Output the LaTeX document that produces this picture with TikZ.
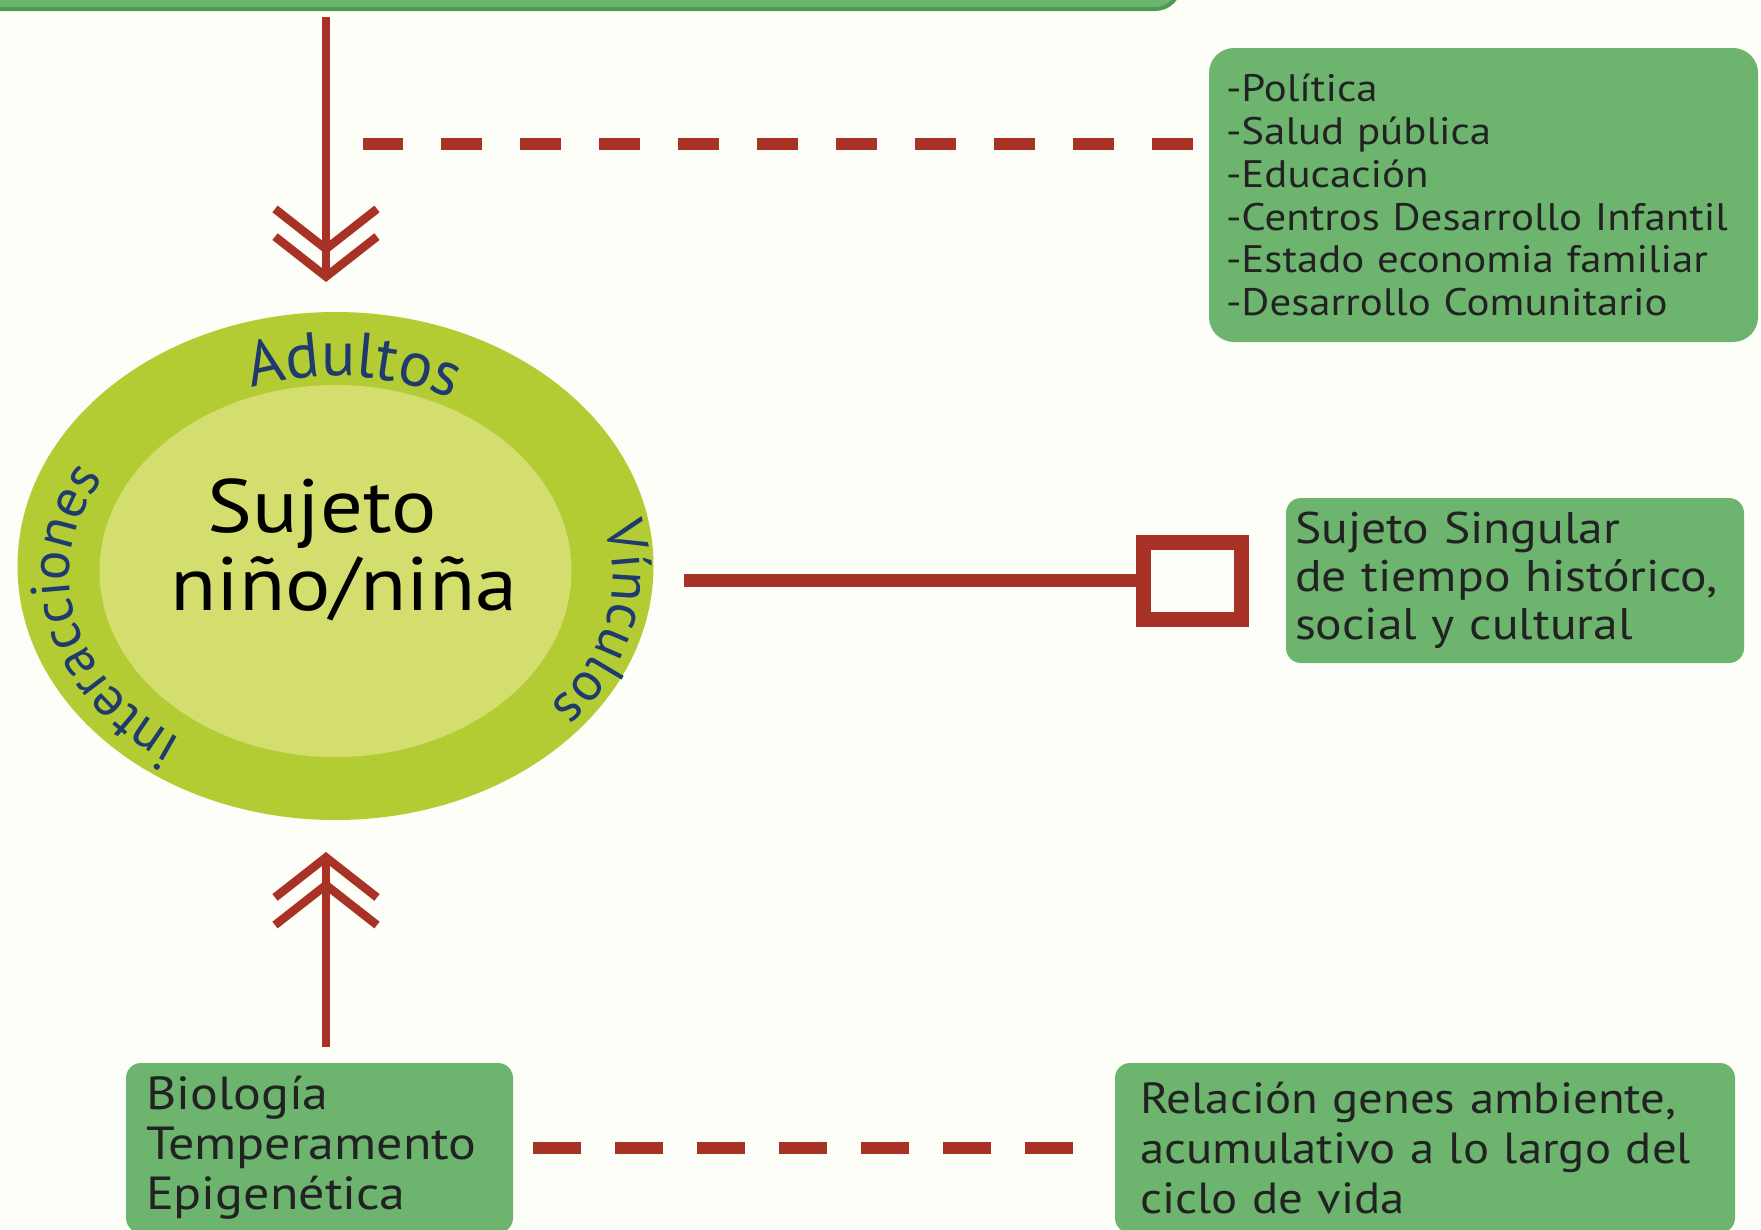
\documentclass[tikz,border=0pt]{standalone}
\usepackage{fontspec}
\setmainfont[FakeStretch=1.12]{PT Sans}
\newfontfamily\ringfamily{PT Sans}
\usetikzlibrary{arrows.meta,shapes.geometric,decorations.text,calc}
\definecolor{paper}{HTML}{FEFEF9}
\definecolor{boxgreen}{HTML}{6DB56F}
\definecolor{barline}{HTML}{4E9A52}
\definecolor{ring}{HTML}{B4CC34}
\definecolor{core}{HTML}{D3DE6E}
\definecolor{brick}{HTML}{A93226}
\definecolor{navy}{HTML}{1E3A6E}
\definecolor{ink}{HTML}{222222}
\newcommand{\ringfont}[1]{\ringfamily\fontsize{#1}{#1}\selectfont\color{navy}}

\begin{document}
\begin{tikzpicture}[
 greenbox/.style={fill=boxgreen,rounded corners=1.5mm,inner sep=0pt,
   outer sep=0pt,text=ink,align=left,anchor=north west},
 link/.style={brick,line width=0.85mm},
 % Double chevron heads; the negative sep lets the two barbs overlap.
 twin/.style={-{Straight Barb[length=4mm,width=10.2mm,sep=-2.2mm]
   Straight Barb[length=4mm,width=10.2mm]}},
 gapline/.style={brick,line width=1.25mm,dash pattern=on 4.1mm off 3.8mm},
 ringtext/.style n args={2}{decorate,decoration={text along path,
   text align=center,text={|\ringfont{#1}|#2}}}]

\path[use as bounding box,fill=paper] (0,0) rectangle (17.61,-12.29);

% Boxes
\node[greenbox,draw=barline,line width=0.4mm,rounded corners=2.5mm,
  anchor=south east,minimum width=12.5cm,minimum height=1cm]
  (frame) at (11.8,-0.09) {};
\node[greenbox,rounded corners=2.5mm,minimum width=5.49cm,
  minimum height=2.94cm,text width=5.15cm,
  font=\fontsize{10.9}{12.2}\selectfont] (policy) at (12.09,-0.48)
  {-Política\\-Salud pública\\-Educación\\-Centros Desarrollo Infantil\\
   -Estado economia familiar\\-Desarrollo Comunitario};
\node[greenbox,minimum width=4.58cm,minimum height=1.65cm,text width=4.4cm,
  font=\fontsize{12.6}{13.7}\selectfont] (singular) at (12.86,-4.98)
  {Sujeto Singular\\de tiempo histórico,\\social y cultural};
\node[greenbox,minimum width=3.87cm,minimum height=1.70cm,text width=3.47cm,
  font=\fontsize{13.2}{14.2}\selectfont] (nature) at (1.26,-10.63)
  {Biología\\Temperamento\\Epigenética};
\node[greenbox,minimum width=6.20cm,minimum height=1.70cm,text width=5.70cm,
  font=\fontsize{12.4}{14.2}\selectfont] (genes) at (11.15,-10.63)
  {Relación genes ambiente,\\acumulativo a lo largo del\\ciclo de vida};

% Child: outer ring with the lighter core painted inside it
\node[ellipse,fill=ring,minimum width=6.36cm,minimum height=5.08cm,
  inner sep=0pt,outer sep=0pt,
  path picture={\fill[core] ([yshift=-0.5mm]path picture bounding box.center)
    ellipse[x radius=2.36cm,y radius=1.86cm];}] (child) at (3.355,-5.66) {};
\node[font=\fontsize{21.5}{22.4}\selectfont,align=left,text=black]
  (subject) at (3.44,-5.50) {\hspace*{3.7mm}Sujeto\\niño/niña};

% Ring words run clockwise so that their tops face outward
\coordinate (hub) at ($(child.center)+(0,-0.1)$);
\path[ringtext={18}{Adultos}] ($(child.center)+(150:2.45 and 1.90)$)
  arc[start angle=150,end angle=20,x radius=2.45cm,y radius=1.90cm];
\path[ringtext={15.7}{interacciones}] ($(hub)+(281:2.66 and 2.0)$)
  arc[start angle=281,end angle=101,x radius=2.66cm,y radius=2.0cm];
\path[ringtext={15.7}{Vínculos}] ($(hub)+(80:2.77 and 2.05)$)
  arc[start angle=80,end angle=-100,x radius=2.77cm,y radius=2.05cm];

% Connectors
\coordinate (spine) at ($(child.north)+(-0.095,0)$);
\draw[link,twin,shorten <=0.8mm,shorten >=3.0mm] (spine |- frame.south) -- (spine);
\draw[link,twin,shorten <=1.6mm,shorten >=3.2mm]
  (spine |- nature.north) -- (spine |- child.south);
\draw[gapline] ($(policy.north west)+(-0.16,-0.96)$)
  -- ($(spine |- policy.north west)+(0.37,-0.96)$);
\draw[link,line width=1.25mm,
  -{Square[open,length=11.3mm,width=9.2mm,line width=1.5mm]},
  shorten <=3mm,shorten >=3.7mm] (child.east |- singular.west) -- (singular.west);
\draw[gapline,dash pattern=on 4.8mm off 3.4mm,shorten <=2mm,shorten >=4.2mm]
  (nature.east) -- (genes.west);
\end{tikzpicture}
\end{document}
